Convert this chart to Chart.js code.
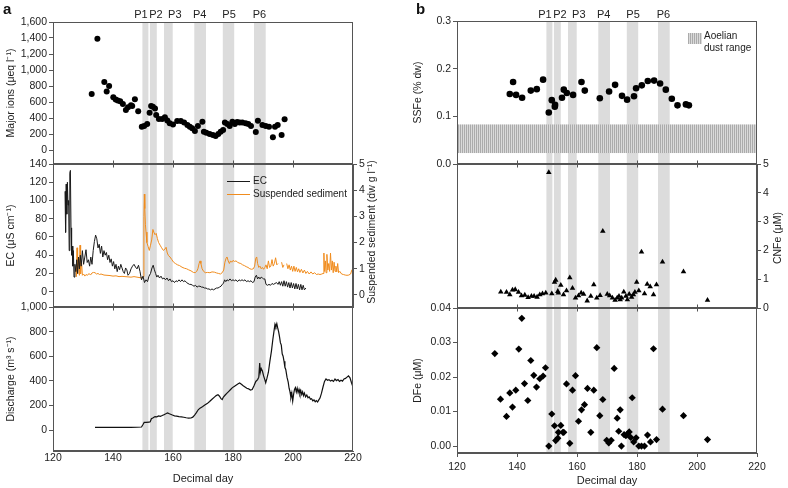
<!DOCTYPE html>
<html>
<head>
<meta charset="utf-8">
<script src="https://cdn.jsdelivr.net/npm/chart.js@4.4.1/dist/chart.umd.min.js"></script>
<style>
  body { margin: 0; background: #fff; }
  #wrap { position: relative; width: 788px; height: 488px; font-family: "Liberation Sans", Arial, sans-serif; }
  #wrap canvas { position: absolute; left: 0; top: 0; }
  .lbl { position: absolute; font-weight: bold; font-size: 15px; color: #111; line-height: 15px; }
</style>
</head>
<body>
<div id="wrap">
  <canvas id="a1" width="788" height="488"></canvas>
  <canvas id="a2" width="788" height="488"></canvas>
  <canvas id="a3" width="788" height="488"></canvas>
  <canvas id="b1" width="788" height="488"></canvas>
  <canvas id="b2" width="788" height="488"></canvas>
  <canvas id="b3" width="788" height="488"></canvas>
  <div class="lbl" style="left:3px;top:1px">a</div>
  <div class="lbl" style="left:416px;top:1px">b</div>
</div>
<script>
'use strict';
// sampling periods P1..P6 (decimal day)
const bandNames = ['P1', 'P2', 'P3', 'P4', 'P5', 'P6'];
const bandStart = [149.8, 152.3, 157.0, 167.1, 176.6, 187.0];
const bandEnd = [151.8, 154.6, 159.9, 171.0, 180.4, 190.9];
const bandLabelDay = [149.3, 154.3, 160.6, 168.9, 178.7, 188.8]; // where the P labels sit

const dayTicks = [120, 140, 160, 180, 200, 220];
const ionTicks = [0, 200, 400, 600, 800, 1000, 1200, 1400, 1600];
const ecTicks = [0, 20, 40, 60, 80, 100, 120, 140];
const ssTicks = [0, 1, 2, 3, 4, 5];
const qTicks = [0, 200, 400, 600, 800, 1000];
const ssfeTicks = [0, 0.1, 0.2, 0.3];
const cnfeTicks = [0, 1, 2, 3, 4, 5];
const dfeTicks = [0, 0.01, 0.02, 0.03, 0.04];

const dustRange = [0.023, 0.083]; // SSFe % dw

// major ions (day, ueq/l)
const ions = [[132.9,700],[134.8,1390],[137.1,850],[137.9,730],[138.7,800],[140.1,660],[140.9,630],[141.6,620],
  [142.4,610],[143.3,575],[144.3,500],[145,533],[146,560],[146.4,550],[147.3,633],[148.4,483],[149.6,292],
  [150.4,300],[151.4,325],[152.2,467],[152.7,550],[153.3,540],[154,520],[154.4,437],[155.3,387],[156.4,387],
  [157.3,408],[158.1,370],[158.9,333],[160,320],[161.4,362],[162.6,362],[163.7,345],[164.8,312],[165.6,292],
  [166.4,271],[167.3,237],[168.3,300],[169.8,354],[170.3,229],[171.1,216],[172.2,200],[173.3,187],[174.2,175],
  [175.1,200],[175.9,229],[176.7,250],[177.3,345],[178.1,325],[178.9,300],[179.8,354],[180.6,325],[181.4,350],
  [182.2,345],[183.1,345],[184.2,333],[185.1,325],[186,300],[187.6,225],[188.3,367],[189.8,312],[190.9,300],
  [192,292],[193.3,158],[194,292],[194.9,312],[196.2,187],[197.2,383]];

// EC (uS/cm)
const ec = [[124.0,110],[124.2,65],[124.4,118],[124.6,85],[124.8,120],[125.0,95],[125.2,100],[125.4,45],
  [125.6,130],[125.8,133],[126.0,70],[126.2,40],[126.4,50],[126.6,28],[126.8,45],[127.0,16],[127.3,30],
  [127.6,22],[127.9,35],[128.2,20],[128.5,38],[128.8,25],[129.1,40],[129.4,28],[129.8,45],[130.2,30],
  [130.6,38],[131.0,46],[131.4,32],[131.8,35],[132.2,28],[132.6,38],[133.0,30],[133.4,45],[133.8,55],
  [134.2,62],[134.6,58],[135.0,48],[135.4,52],[135.8,42],[136.2,50],[136.6,38],[137.0,45],[137.4,40],
  [137.8,43],[138.2,35],[138.6,40],[139.0,32],[139.4,36],[139.8,28],[140.2,33],[140.6,25],[141.0,30],
  [141.4,22],[141.8,28],[142.2,24],[142.6,30],[143.0,26],[143.4,22],[143.8,20],[144.2,26],[144.6,24],
  [145.0,18],[145.5,20],[146.0,25],[146.5,28],[147.0,30],[147.5,27],[148.0,25],[148.5,29],[149.0,22],
  [149.5,13],[150.0,17],[150.5,10],[151.0,13],[151.5,11],[152.0,17],[152.5,20],[153.0,26],[153.4,29],
  [153.8,24],[154.2,20],[154.6,16],[155.0,18],[155.5,15],[156.0,17],[156.5,14],[157.0,15],[157.5,13],
  [158.0,15],[158.5,12],[159.0,14],[159.5,11],[160.0,12],[160.5,10],[161.0,12],[161.5,11],[162.0,13],
  [162.5,11],[163.0,13],[163.5,11],[164.0,12],[164.5,10],[165.0,9],[165.5,8],[166.0,8],[166.5,7],[167.0,6],
  [167.5,7],[168.0,5],[168.5,6],[169.0,6],[169.5,5],[170.0,5],[170.5,4],[171.0,4],[171.5,3],[172.0,3],
  [172.5,2],[173.0,3],[173.5,2],[174.0,3],[174.5,4],[175.0,4],[175.5,5],[176.0,6],[176.4,8],[176.8,9],
  [177.2,13],[177.6,11],[178.0,13],[178.5,12],[179.0,14],[179.5,12],[180.0,13],[180.5,12],[181.0,13],
  [181.5,11],[182.0,13],[182.5,12],[183.0,13],[183.5,12],[184.0,13],[184.5,11],[185.0,12],[185.5,11],
  [186.0,12],[186.5,10],[187.0,11],[187.4,16],[187.8,18],[188.2,14],[188.6,16],[189.0,14],[189.4,16],
  [189.8,15],[190.2,14],[190.6,14],[191.0,8],[191.5,7],[192.0,8],[192.5,7],[193.0,9],[193.5,8],[194.0,9],
  [194.5,10],[195.0,8],[195.4,11],[195.8,7],[196.2,11],[196.6,6],[197.0,12],[197.4,6],[197.8,11],[198.2,5],
  [198.6,10],[199.0,4],[199.4,10],[199.8,4],[200.2,9],[200.6,3],[201.0,9],[201.4,3],[201.8,8],[202.2,2],
  [202.6,8],[203.0,2],[203.4,7],[203.8,2],[204.3,4]];

// suspended sediment (dw g/l), null = gap
const ss = [[127.6,1.0],[127.8,0.7],[128.0,1.8],[128.2,0.8],[128.5,1.4],[128.8,0.75],[129.0,1.9],[129.2,0.8],
  [129.5,1.3],[129.8,0.75],[130.2,0.8],[130.6,0.72],[131.0,0.78],[131.5,0.75],[132.0,0.82],[132.5,0.76],
  [133.0,0.84],[133.5,0.86],[134.0,0.85],[134.5,0.8],[135.0,0.82],[135.5,0.78],[136.0,0.8],[137.0,0.76],
  [138.0,0.75],[139.0,0.74],[140.0,0.72],[141.0,0.73],[142.0,0.7],[143.0,0.71],[144.0,0.7],[145.0,0.69],
  [146.0,0.68],[147.0,0.7],[148.0,0.68],[149.0,0.66],[149.8,0.65],[150.1,0.7],[150.3,3.0],[150.45,3.85],
  [150.6,3.3],[150.8,2.7],[151.0,2.4],[151.3,2.0],[151.7,1.85],[152.1,1.7],[152.5,1.9],[152.9,2.1],
  [153.3,2.5],[153.6,2.4],[154.0,2.3],[154.4,2.35],[154.8,2.15],[155.2,2.0],[155.7,1.9],[156.2,1.8],
  [156.8,1.7],[157.3,1.75],[157.7,1.82],[158.1,1.6],[158.5,1.5],[159.0,1.45],[159.6,1.35],[160.2,1.25],
  [160.8,1.2],[161.5,1.15],[162.2,1.12],[163.0,1.06],[163.8,1.02],[164.5,1.0],[165.2,0.96],[166.0,0.92],
  [166.8,0.86],[167.4,0.85],[167.9,0.9],[168.3,1.0],[168.7,1.2],[169.0,1.3],[169.3,1.2],[169.7,1.0],
  [170.2,0.9],[170.8,0.85],[171.5,0.86],[172.3,0.85],[173.0,0.88],[173.8,0.87],[174.5,0.84],[175.2,0.82],
  [175.8,0.8],[176.4,0.85],[176.9,0.95],[177.3,1.25],[177.7,1.4],[178.0,1.45],[178.4,1.3],[178.8,1.2],
  [179.2,1.3],[179.6,1.25],[180.0,1.32],[180.5,1.28],[181.0,1.3],[181.5,1.25],[182.0,1.22],[182.6,1.2],
  [183.2,1.15],[183.8,1.12],[184.4,1.08],[185.0,1.05],[185.6,1.0],[186.2,0.98],[186.8,1.0],[187.2,1.1],
  [187.6,1.4],[187.9,1.45],[188.2,1.2],[188.6,1.05],[189.0,1.1],[189.4,1.0],[189.8,1.05],[190.2,0.98],
  [190.6,1.05],[191.0,1.15],[191.4,1.0],[191.8,1.3],[192.2,1.05],[192.6,1.1],[193.0,1.35],[193.4,1.1],
  [193.8,1.2],[194.2,1.42],[194.6,1.15],[195.0,1.2],[195.3,null],[196.2,1.25],[196.6,1.05],[197.0,1.15],
  [197.3,null],[197.9,1.2],[198.3,1.0],[198.7,1.15],[199.1,0.95],[199.5,1.1],[199.9,0.9],[200.3,1.1],
  [200.7,0.9],[201.1,1.05],[201.5,0.88],[201.9,1.0],[202.3,0.86],[202.8,0.98],[203.3,0.84],[203.8,0.95],
  [204.3,0.82],[204.8,0.9],[205.4,0.8],[206.0,0.88],[206.6,0.8],[207.2,0.85],[207.8,0.78],[208.4,0.8],
  [209.0,0.78],[209.6,0.8],[210.0,0.82],[210.3,1.6],[210.5,0.9],[210.8,1.3],[211.0,0.85],[211.3,1.55],
  [211.6,0.95],[211.9,1.2],[212.2,0.9],[212.5,1.6],[212.8,0.95],[213.1,1.3],[213.4,0.85],[213.7,1.25],
  [214.0,0.9],[214.3,1.1],[214.6,0.88],[214.9,1.2],[215.2,0.85],[215.6,0.9],[216.2,0.8],[216.8,0.78],
  [217.4,0.76],[218.0,0.75],[218.6,0.76],[219.2,0.8],[219.6,0.95],[220.0,1.0]];

// discharge (m3/s)
const discharge = [[134.0,22],[136,23],[138,22],[140,22],[142,23],[144,22],[146,22],[148,23],[149.5,25],
  [150.0,45],[150.4,62],[151,63],[152,64],[152.4,68],[152.8,92],[153.4,100],[154,110],[154.6,108],
  [155.2,115],[155.8,112],[156.4,118],[157,125],[157.6,132],[158.2,140],[158.6,135],[159.2,128],
  [159.8,122],[160.5,116],[161.2,114],[162,110],[162.8,107],[163.6,104],[164.4,100],[165.2,97],[166,98],
  [166.6,105],[167.2,122],[167.8,142],[168.4,165],[169,178],[169.8,190],[170.6,203],[171.4,215],
  [172.2,232],[173,250],[173.8,268],[174.4,280],[175,288],[175.5,275],[176,255],[176.4,248],[176.8,268],
  [177.4,285],[178,300],[178.6,315],[179.2,330],[179.8,345],[180.4,355],[181,365],[181.6,375],[182.2,382],
  [182.8,372],[183.4,360],[184,350],[184.6,340],[185.2,335],[185.8,325],[186.4,330],[187,360],[187.6,395],
  [188.2,410],[188.6,430],[188.9,545],[189.1,470],[189.4,500],[189.8,480],[190.2,440],[190.6,410],
  [190.9,385],[191.3,420],[191.8,470],[192.3,560],[192.8,640],[193.3,740],[193.7,810],[194,860],
  [194.3,840],[194.6,865],[194.9,830],[195.2,800],[195.5,760],[195.8,710],[196.1,690],[196.4,620],
  [196.7,600],[197.0,560],[197.3,510],[197.6,490],[198.0,430],[198.4,390],[198.7,340],[199.0,310],
  [199.3,265],[199.6,300],[199.9,235],[200.2,290],[200.5,330],[200.8,345],[201.1,310],[201.4,340],
  [201.7,305],[202.0,330],[202.3,295],[202.6,320],[202.9,290],[203.2,310],[203.5,280],[203.8,300],
  [204.2,270],[204.6,285],[205.0,262],[205.4,270],[205.8,250],[206.2,255],[206.6,238],[207.0,245],
  [207.4,230],[207.8,240],[208.2,228],[208.6,245],[209.0,260],[209.5,300],[210.0,350],[210.5,395],
  [211.0,415],[211.5,405],[212.0,410],[212.5,398],[213.0,405],[213.5,395],[214.0,415],[214.5,402],
  [215.0,410],[215.5,395],[216.0,405],[216.5,398],[217.0,415],[217.5,420],[218.0,430],[218.5,440],
  [219.0,425],[219.5,385],[220.0,350]];

// suspended sediment Fe (% dw)
const ssfe = [[137.6,0.147],[138.7,0.172],[139.7,0.145],[141.7,0.139],[144.6,0.154],[146.6,0.157],
  [148.7,0.177],[150.6,0.108],[151.6,0.134],[152.6,0.120],[152.7,0.124],[155,0.139],[155.6,0.156],
  [156.6,0.149],[158.7,0.145],[161.5,0.172],[162.6,0.154],[167.6,0.138],[170.7,0.152],[172.7,0.166],
  [175,0.143],[176.7,0.135],[179,0.142],[179.7,0.159],[181.6,0.165],[183.6,0.174],[185.7,0.175],
  [187.7,0.169],[189.6,0.156],[191.6,0.137],[193.5,0.123],[196.3,0.125],[197.3,0.123]];

// colloidal + nanoparticulate Fe (uM)
const cnfe = [[134.6,0.56],[136.5,0.55],[137.6,0.46],[138.5,0.63],[139.4,0.64],[140.5,0.55],[141.5,0.43],
  [142.6,0.45],[143.7,0.37],[144.8,0.41],[145.7,0.41],[146.7,0.38],[147.6,0.46],[148.5,0.5],[149.6,0.52],
  [150.6,4.71],[151.6,0.5],[152.5,0.9],[152.9,0.97],[153.6,0.58],[153.8,0.52],[154.6,0.79],[155.5,0.46],
  [156.5,0.6],[157.6,1.05],[158.5,0.69],[159.5,0.35],[160.5,0.43],[161.4,0.52],[162.2,0.48],[163.4,0.25],
  [164.6,0.41],[165.6,0.81],[166.6,0.35],[167.7,0.44],[168.6,2.67],[170.1,0.48],[170.9,0.43],[171.8,0.35],
  [172.7,0.27],[173.4,0.35],[174,0.41],[174.4,0.29],[174.9,0.35],[175.6,0.56],[176.3,0.41],[176.8,0.29],
  [177.4,0.48],[178.2,0.38],[178.8,0.46],[179.3,0.55],[179.9,0.9],[180.6,0.6],[181.5,1.95],[182.5,0.5],
  [183.4,0.83],[184.4,0.74],[185.5,0.46],[186.5,0.81],[188.5,1.6],[195.5,1.26],[203.5,0.27]];

// dissolved Fe (uM)
const dfe = [[132.6,0.0268],[134.5,0.0136],[136.5,0.0086],[137.6,0.0154],[138.5,0.0113],[139.6,0.0162],
  [140.6,0.0281],[141.6,0.037],[142.5,0.0181],[143.6,0.0132],[144.6,0.0248],[145.6,0.0205],[146.5,0.0171],
  [147.6,0.0195],[148.7,0.0203],[149.5,0.0227],[150.6,0.0],[151.6,0.0093],[152.5,0.0059],[152.9,0.0016],
  [153.6,0.0023],[153.8,0.004],[154.6,0.006],[155.3,0.004],[155.6,0.004],[156.5,0.018],[157.6,0.0008],
  [158.5,0.0162],[159.5,0.0204],[160.5,0.0072],[161.5,0.0105],[162.5,0.012],[163.5,0.0167],[164.6,0.004],
  [165.6,0.0162],[166.6,0.0285],[167.6,0.0088],[168.6,0.0135],[169.9,0.0017],[170.6,0.0009],[171.4,0.0017],
  [172.4,0.0225],[173.4,0.0081],[173.9,0.0043],[174.4,0.0105],[174.8,0.0],[175.7,0.0033],[176.3,0.003],
  [176.8,0.0035],[177.4,0.0041],[177.9,0.0025],[178.4,0.014],[178.9,0.0012],[179.7,0.0024],[180.6,0.0],
  [181.5,0.0],[182.5,0.0],[183.5,0.0032],[184.5,0.0012],[185.5,0.0282],[186.5,0.0019],[188.5,0.0107],
  [195.5,0.0088],[203.5,0.0019]];

const FONT = '"Liberation Sans", Arial, sans-serif';
Chart.defaults.font.family = FONT;
Chart.defaults.font.size = 10.5;
Chart.defaults.color = '#222';
Chart.defaults.animation = false;
Chart.defaults.plugins.legend.display = false;
Chart.defaults.plugins.tooltip.enabled = false;

const AXIS = '#555';

// hatch pattern for the aeolian dust band
const patCanvas = document.createElement('canvas');
patCanvas.width = 2; patCanvas.height = 4;
const pctx = patCanvas.getContext('2d');
pctx.fillStyle = '#dadada'; pctx.fillRect(0, 0, 2, 4);
pctx.fillStyle = '#ababab'; pctx.fillRect(0, 0, 1, 4);
const hatch = pctx.createPattern(patCanvas, 'repeat');

function pts(arr) { return arr.map(p => ({x: p[0], y: p[1]})); }
function setTicks(vals) { return s => { s.ticks = vals.map(v => ({value: v})); }; }
function fixW(w) { return s => { s.width = w; }; }
function fixH(h) { return s => { s.height = h; }; }

function yAxis(pos, min, max, ticks, fmt, width, title, tpad) {
  return {
    type: 'linear', position: pos, min: min, max: max,
    afterBuildTicks: setTicks(ticks),
    afterFit: fixW(width),
    ticks: {callback: fmt, padding: 2, color: '#222'},
    grid: {drawOnChartArea: false, drawTicks: true, tickLength: 4, color: AXIS},
    border: {display: true, color: AXIS},
    title: title ? {display: true, text: title, color: '#222', font: {size: 10.5}, padding: {top: tpad, bottom: tpad}} : {display: false}
  };
}

function xHidden() {
  return {type: 'linear', min: 120, max: 220, display: false};
}

function xBottom(height, tickLen, pad, tpad) {
  return {
    type: 'linear', min: 120, max: 220,
    afterBuildTicks: setTicks(dayTicks),
    afterFit: fixH(height),
    ticks: {padding: pad, color: '#222'},
    grid: {drawOnChartArea: false, display: tickLen > 0, drawTicks: tickLen > 0, tickLength: tickLen, color: AXIS},
    border: {display: true, color: AXIS},
    title: {display: true, text: 'Decimal day', color: '#222', font: {size: 11}, padding: {top: tpad, bottom: tpad}}
  };
}

// shading, frame, inner ticks, period labels, legends
const decor = {
  id: 'decor',
  beforeDatasetsDraw(chart, args, o) {
    const {ctx, chartArea: a} = chart;
    const x = chart.scales.x;
    ctx.save();
    ctx.fillStyle = '#dcdcdc';
    for (let i = 0; i < bandStart.length; i++) {
      const l = x.getPixelForValue(bandStart[i]), r = x.getPixelForValue(bandEnd[i]);
      ctx.fillRect(l, a.top, r - l, a.bottom - a.top);
    }
    if (o.dust) {
      const y = chart.scales.y;
      const t = y.getPixelForValue(dustRange[1]), b = y.getPixelForValue(dustRange[0]);
      ctx.fillStyle = hatch;
      ctx.fillRect(a.left + 1, t, a.right - a.left - 1, b - t);
    }
    ctx.restore();
  },
  afterDraw(chart, args, o) {
    const {ctx, chartArea: a} = chart;
    const x = chart.scales.x;
    ctx.save();
    ctx.strokeStyle = AXIS;
    ctx.lineWidth = 1;
    const L = Math.round(a.left) + 0.5, R = Math.round(a.right) - 0.5;
    const T = Math.round(a.top) + 0.5, B = Math.round(a.bottom) - 0.5;
    ctx.strokeRect(L, T, R - L, B - T);
    // small inner ticks on shared panel edges
    ctx.beginPath();
    for (const v of [140, 160, 180, 200]) {
      const px = Math.round(x.getPixelForValue(v)) + 0.5;
      if (o.tickTop) { ctx.moveTo(px, T); ctx.lineTo(px, T + 3); }
      if (o.tickBottom) { ctx.moveTo(px, B); ctx.lineTo(px, B - 3); }
    }
    ctx.stroke();
    ctx.fillStyle = '#222';
    if (o.periods) {
      ctx.font = '11px ' + FONT;
      ctx.textAlign = 'center';
      ctx.textBaseline = 'middle';
      for (let i = 0; i < bandNames.length; i++) {
        ctx.fillText(bandNames[i], x.getPixelForValue(bandLabelDay[i]), 15);
      }
    }
    if (o.rightTitle) {
      ctx.font = '10.5px ' + FONT;
      ctx.textAlign = 'center';
      ctx.textBaseline = 'middle';
      ctx.translate(o.rightTitle.x, o.rightTitle.y);
      ctx.rotate(-Math.PI / 2);
      ctx.fillText(o.rightTitle.text, 0, 0);
      ctx.setTransform(1, 0, 0, 1, 0, 0);
    }
    if (o.lineLegend) {
      ctx.font = '10px ' + FONT;
      ctx.textAlign = 'left';
      ctx.textBaseline = 'middle';
      chart.data.datasets.forEach((d, i) => {
        const yy = o.lineLegend.y + i * 13;
        ctx.strokeStyle = d.borderColor;
        ctx.beginPath();
        ctx.moveTo(o.lineLegend.x, yy + 0.5);
        ctx.lineTo(o.lineLegend.x + 23, yy + 0.5);
        ctx.stroke();
        ctx.fillText(d.label, o.lineLegend.x + 26, yy);
      });
    }
    if (o.dust) {
      ctx.fillStyle = hatch;
      ctx.fillRect(688, 33, 14, 11);
      ctx.fillStyle = '#222';
      ctx.font = '10px ' + FONT;
      ctx.textAlign = 'left';
      ctx.textBaseline = 'middle';
      ctx.fillText('Aoelian', 704, 36);
      ctx.fillText('dust range', 704, 48);
    }
    ctx.restore();
  }
};

function scatterSet(label, data, style, r) {
  return {type: 'scatter', label: label, data: pts(data), pointStyle: style, pointRadius: r,
    backgroundColor: '#000', borderColor: '#000', borderWidth: 0};
}
function lineSet(label, data, color, axis, w) {
  return {type: 'line', label: label, data: pts(data), borderColor: color, borderWidth: w,
    pointRadius: 0, tension: 0, spanGaps: false, yAxisID: axis};
}

const base = {responsive: false, animation: false, events: []};
const comma = v => v.toLocaleString('en-US');

// a1: major ions
new Chart(document.getElementById('a1'), {
  type: 'scatter',
  data: {datasets: [scatterSet('Major ions', ions, 'circle', 3)]},
  options: Object.assign({}, base, {
    layout: {padding: {left: 0, right: 435, top: 22, bottom: 324}},
    scales: {
      x: xHidden(),
      y: yAxis('left', -175, 1600, ionTicks, comma, 53, 'Major ions (\u03BCeq l\u207B\u00B9)', 5)
    },
    plugins: {decor: {periods: true, tickBottom: true}}
  }),
  plugins: [decor]
});

// a2: EC and suspended sediment
new Chart(document.getElementById('a2'), {
  type: 'line',
  data: {datasets: [
    lineSet('EC', ec, '#1a1a1a', 'y', 1),
    lineSet('Suspended sediment', ss, '#f08c1e', 'y2', 1)
  ]},
  options: Object.assign({}, base, {
    layout: {padding: {left: 0, right: 411, top: 164, bottom: 181}},
    scales: {
      x: xHidden(),
      y: yAxis('left', -16.8, 140, ecTicks, v => v, 53, 'EC (\u03BCS cm\u207B\u00B9)', 5),
      y2: yAxis('right', -0.46, 5, ssTicks, v => v, 24, null)
    },
    plugins: {decor: {tickTop: true, tickBottom: true,
      rightTitle: {text: 'Suspended sediment (dw g l\u207B\u00B9)', x: 372, y: 232},
      lineLegend: {x: 227, y: 181}}}
  }),
  plugins: [decor]
});

// a3: discharge
new Chart(document.getElementById('a3'), {
  type: 'line',
  data: {datasets: [lineSet('Discharge', discharge, '#111', 'y', 1.2)]},
  options: Object.assign({}, base, {
    layout: {padding: {left: 0, right: 435, top: 307, bottom: 0}},
    scales: {
      x: xBottom(37, 0, 1, 2),
      y: yAxis('left', -170, 1000, qTicks, comma, 53, 'Discharge (m\u00B3 s\u207B\u00B9)', 5)
    },
    plugins: {decor: {tickTop: true}}
  }),
  plugins: [decor]
});

// b1: SSFe
new Chart(document.getElementById('b1'), {
  type: 'scatter',
  data: {datasets: [scatterSet('SSFe', ssfe, 'circle', 3.3)]},
  options: Object.assign({}, base, {
    layout: {padding: {left: 407, right: 31, top: 21, bottom: 324}},
    scales: {
      x: xHidden(),
      y: yAxis('left', 0, 0.3, ssfeTicks, v => v.toFixed(1), 50, 'SSFe (% dw)', 4.5)
    },
    plugins: {decor: {periods: true, tickBottom: true, dust: true}}
  }),
  plugins: [decor]
});

// b2: CNFe
new Chart(document.getElementById('b2'), {
  type: 'scatter',
  data: {datasets: [scatterSet('CNFe', cnfe, 'triangle', 3.2)]},
  options: Object.assign({}, base, {
    layout: {padding: {left: 457, right: 11, top: 164, bottom: 180}},
    scales: {
      x: xHidden(),
      y: yAxis('right', 0, 5, cnfeTicks, v => v, 20, null)
    },
    plugins: {decor: {tickTop: true, tickBottom: true, rightTitle: {text: 'CNFe (\u03BCM)', x: 778, y: 238}}}
  }),
  plugins: [decor]
});

// b3: DFe
new Chart(document.getElementById('b3'), {
  type: 'scatter',
  data: {datasets: [scatterSet('DFe', dfe, 'rectRot', 3.6)]},
  options: Object.assign({}, base, {
    layout: {padding: {left: 407, right: 31, top: 308, bottom: 0}},
    scales: {
      x: xBottom(35, 4, 4, 0),
      y: yAxis('left', -0.002, 0.04, dfeTicks, v => v.toFixed(2), 50, 'DFe (\u03BCM)', 4.5)
    },
    plugins: {decor: {tickTop: true}}
  }),
  plugins: [decor]
});
</script>
</body>
</html>
